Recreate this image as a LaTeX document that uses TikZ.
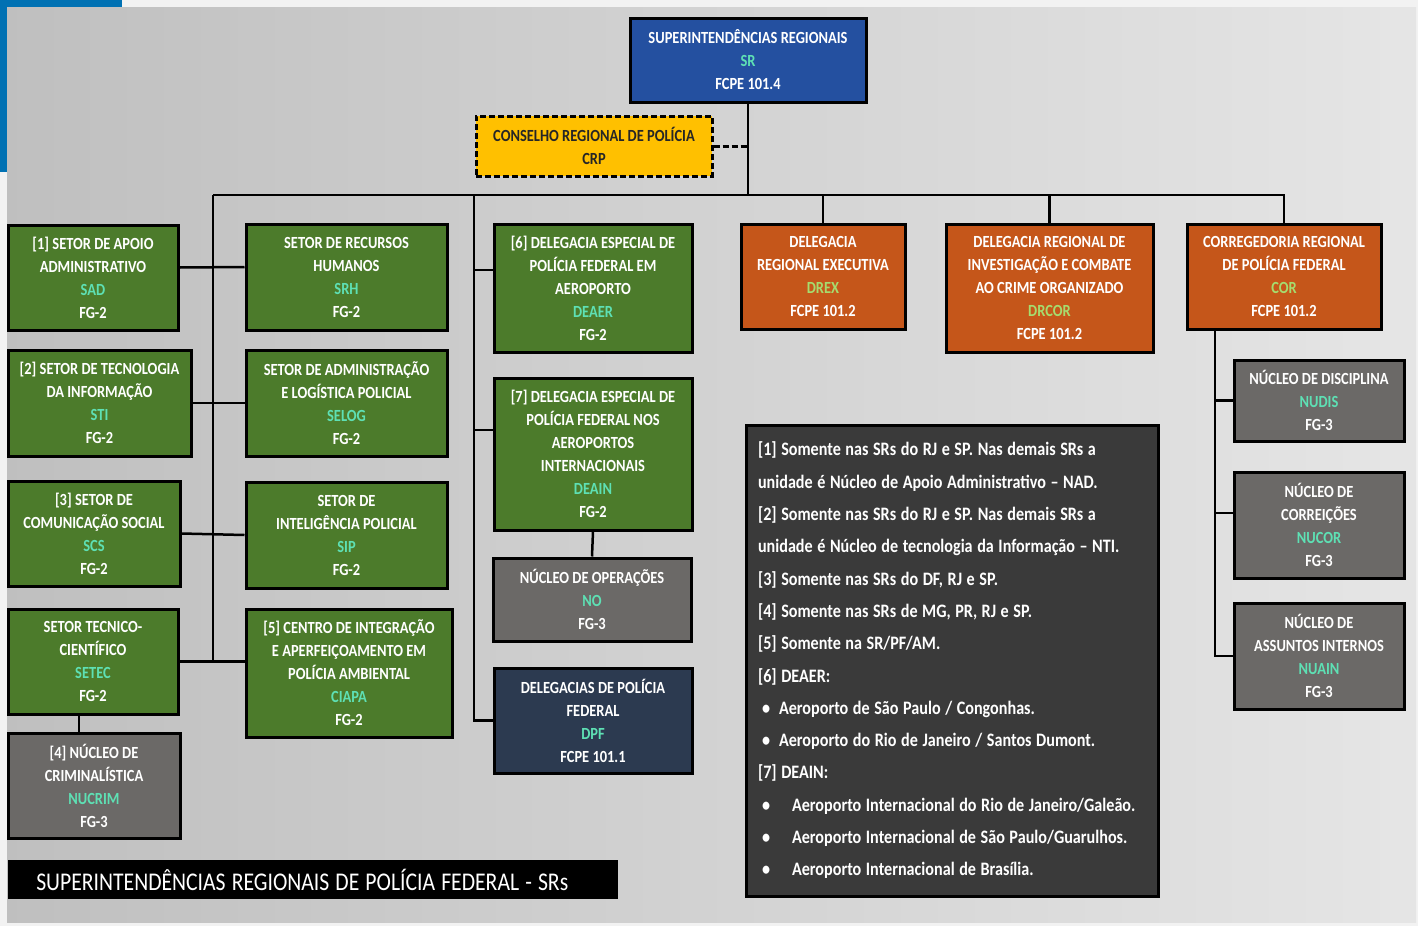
\documentclass[tikz,border=0pt]{standalone}
\usepackage{fontspec}
\setmainfont{Carlito}[FakeStretch=0.85]
\usepackage{xcolor}
\definecolor{boxgreen}{HTML}{4C7B2B}
\definecolor{boxgray}{HTML}{6B6967}
\definecolor{boxorange}{HTML}{C5561A}
\definecolor{boxblue}{HTML}{2450A0}
\definecolor{boxnavy}{HTML}{2C3A50}
\definecolor{boxyellow}{HTML}{FFC000}
\definecolor{notebg}{HTML}{3A3A3A}
\definecolor{acro}{HTML}{5EE0B4}
\definecolor{acrolime}{HTML}{A6DC6E}
\definecolor{sideblue}{HTML}{0071B3}
\definecolor{pagebg}{HTML}{F2F2F2}

\begin{document}
\begin{tikzpicture}%
  [x=1pt,y=-1pt,line width=2.5pt]
  \tikzstyle{unit node}=[rectangle,draw=black,line width=3pt,text=white,align=center,inner sep=2,font=\bfseries\fontsize{17}{23}\selectfont]
  \tikzstyle{green node}=[unit node,fill=boxgreen]
  \tikzstyle{gray node}=[unit node,fill=boxgray]
  \tikzstyle{orange node}=[unit node,fill=boxorange]
  % background
  \fill[pagebg] (0,0) rectangle (1418,926);
  \fill[sideblue] (0,0) rectangle (122,172);
  \shade[left color=black!25,right color=black!10] (7,7) rectangle (1416,922);
  % top
  \node(sr)[unit node,fill=boxblue,minimum width=236pt,minimum height=84pt] at (748,60)
    {SUPERINTENDÊNCIAS REGIONAIS\\\textcolor{acro}{SR}\\FCPE 101.4};
  \node(crp)[unit node,fill=boxyellow,text=black!85,dashed,dash pattern=on 6pt off 3pt,minimum width=236pt,minimum height=60pt] at (594,146)
    {CONSELHO REGIONAL DE POLÍCIA\\CRP};
  % left pair of columns
  \node(sad)[green node,minimum width=170pt,minimum height=105pt] at (93,277.5)
    {[1] SETOR DE APOIO\\ADMINISTRATIVO\\\textcolor{acro}{SAD}\\FG-2};
  \node(sti)[green node,minimum width=183pt,minimum height=106pt] at (99.5,403)
    {[2] SETOR DE TECNOLOGIA\\DA INFORMAÇÃO\\\textcolor{acro}{STI}\\FG-2};
  \node(scs)[green node,minimum width=172pt,minimum height=105pt] at (94,533.5)
    {[3] SETOR DE\\COMUNICAÇÃO SOCIAL\\\textcolor{acro}{SCS}\\FG-2};
  \node(setec)[green node,minimum width=170pt,minimum height=105pt] at (93,661.5)
    {SETOR TECNICO-\\CIENTÍFICO\\\textcolor{acro}{SETEC}\\FG-2};
  \node(nucrim)[gray node,minimum width=172pt,minimum height=105pt] at (94,785.5)
    {[4] NÚCLEO DE\\CRIMINALÍSTICA\\\textcolor{acro}{NUCRIM}\\FG-3};
  \node(srh)[green node,minimum width=201pt,minimum height=106pt] at (346.5,277)
    {SETOR DE RECURSOS\\HUMANOS\\\textcolor{acro}{SRH}\\FG-2};
  \node(selog)[green node,minimum width=201pt,minimum height=106pt] at (346.5,403)
    {SETOR DE ADMINISTRAÇÃO\\E LOGÍSTICA POLICIAL\\\textcolor{acro}{SELOG}\\FG-2};
  \node(sip)[green node,minimum width=201pt,minimum height=106pt] at (346.5,535)
    {SETOR DE\\INTELIGÊNCIA POLICIAL\\\textcolor{acro}{SIP}\\FG-2};
  \node(ciapa)[green node,minimum width=206pt,minimum height=128pt] at (349,673)
    {[5] CENTRO DE INTEGRAÇÃO\\E APERFEIÇOAMENTO EM\\POLÍCIA AMBIENTAL\\\textcolor{acro}{CIAPA}\\FG-2};
  % middle column
  \node(deaer)[green node,minimum width=198pt,minimum height=128pt] at (593,288)
    {[6] DELEGACIA ESPECIAL DE\\POLÍCIA FEDERAL EM\\AEROPORTO\\\textcolor{acro}{DEAER}\\FG-2};
  \node(deain)[green node,minimum width=198pt,minimum height=152pt] at (593,454)
    {[7] DELEGACIA ESPECIAL DE\\POLÍCIA FEDERAL NOS\\AEROPORTOS\\INTERNACIONAIS\\\textcolor{acro}{DEAIN}\\FG-2};
  \node(no)[gray node,minimum width=198pt,minimum height=83pt] at (592,599.5)
    {NÚCLEO DE OPERAÇÕES\\\textcolor{acro}{NO}\\FG-3};
  \node(dpf)[unit node,fill=boxnavy,minimum width=198pt,minimum height=105pt] at (593,720.5)
    {DELEGACIAS DE POLÍCIA\\FEDERAL\\\textcolor{acro}{DPF}\\FCPE 101.1};
  % right side
  \node(drex)[orange node,minimum width=164pt,minimum height=105pt] at (823,276.5)
    {DELEGACIA\\REGIONAL EXECUTIVA\\\textcolor{acrolime}{DREX}\\FCPE 101.2};
  \node(drcor)[orange node,minimum width=207pt,minimum height=128pt] at (1049.5,288)
    {DELEGACIA REGIONAL DE\\INVESTIGAÇÃO E COMBATE\\AO CRIME ORGANIZADO\\\textcolor{acrolime}{DRCOR}\\FCPE 101.2};
  \node(cor)[orange node,minimum width=194pt,minimum height=105pt] at (1284,276.5)
    {CORREGEDORIA REGIONAL\\DE POLÍCIA FEDERAL\\\textcolor{acrolime}{COR}\\FCPE 101.2};
  \node(nudis)[gray node,minimum width=170pt,minimum height=81pt] at (1319,400.5)
    {NÚCLEO DE DISCIPLINA\\\textcolor{acro}{NUDIS}\\FG-3};
  \node(nucor)[gray node,minimum width=170pt,minimum height=106pt] at (1319,525)
    {NÚCLEO DE\\CORREIÇÕES\\\textcolor{acro}{NUCOR}\\FG-3};
  \node(nuain)[gray node,minimum width=170pt,minimum height=106pt] at (1319,656)
    {NÚCLEO DE\\ASSUNTOS INTERNOS\\\textcolor{acro}{NUAIN}\\FG-3};
  % notes and title
  \node(notes)[unit node,fill=notebg,align=left,text width=388pt,inner xsep=12pt,minimum height=471pt,font=\bfseries\fontsize{19}{32.3}\selectfont] at (952,660.5)
    {\spaceskip=0.24em\relax
     [1] Somente nas SRs do RJ e SP. Nas demais SRs a\\
     unidade é Núcleo de Apoio Administrativo – NAD.\\{}
     [2] Somente nas SRs do RJ e SP. Nas demais SRs a\\
     unidade é Núcleo de tecnologia da Informação – NTI.\\{}
     [3] Somente nas SRs do DF, RJ e SP.\\{}
     [4] Somente nas SRs de MG, PR, RJ e SP.\\{}
     [5] Somente na SR/PF/AM.\\{}
     [6] DEAER:\\
     \hspace*{4pt}\makebox[17pt][l]{•}Aeroporto de São Paulo / Congonhas.\\
     \hspace*{4pt}\makebox[17pt][l]{•}Aeroporto do Rio de Janeiro / Santos Dumont.\\{}
     [7] DEAIN:\\
     \hspace*{4pt}\makebox[30pt][l]{•}Aeroporto Internacional do Rio de Janeiro/Galeão.\\
     \hspace*{4pt}\makebox[30pt][l]{•}Aeroporto Internacional de São Paulo/Guarulhos.\\
     \hspace*{4pt}\makebox[30pt][l]{•}Aeroporto Internacional de Brasília.};
  \node(title)[rectangle,fill=black,text=white,anchor=west,text width=554pt,minimum height=39pt,inner xsep=28pt,align=left,font=\fontsize{25.5}{28}\selectfont] at (7,879.5)
    {\spaceskip=0.24em\relax SUPERINTENDÊNCIAS REGIONAIS DE POLÍCIA FEDERAL - SRs};
  % connectors
  \coordinate(bl) at (213,195);
  \coordinate(bm) at (474,195);
  \coordinate(cs) at (1215,329);
  \draw (sr.south) -- (sr.south |- bl);
  \draw[dashed,dash pattern=on 6pt off 3pt,line width=3pt] (crp.east) -- (crp.east -| sr.south);
  \draw (bl) -- (bl -| cor.north) -- (cor.north);
  \draw (drex.north) -- (drex.north |- bl);
  \draw (drcor.north) -- (drcor.north |- bl);
  \draw (bl) -- (bl |- setec.east);
  \draw ([yshift=10pt]sad.east) -- ([yshift=10pt]srh.west);
  \draw (sti.east) -- (selog.west);
  \draw (scs.east) -- (sip.west);
  \draw (setec.east) -- (setec.east -| ciapa.west);
  \draw ([xshift=-14pt]setec.south) -- ([xshift=-14pt]setec.south |- nucrim.north);
  \draw (bm) -- (bm |- dpf.west) -- (dpf.west);
  \draw ([yshift=18pt]deaer.west -| bm) -- ([yshift=18pt]deaer.west);
  \draw ([yshift=24pt]deain.west -| bm) -- ([yshift=24pt]deain.west);
  \draw (deain.south) -- (no.north);
  \draw (cs) -- (cs |- nuain.west) -- (nuain.west);
  \draw (cs |- nudis.west) -- (nudis.west);
  \draw ([yshift=12pt]nucor.west -| cs) -- ([yshift=12pt]nucor.west);
\end{tikzpicture}
\end{document}
